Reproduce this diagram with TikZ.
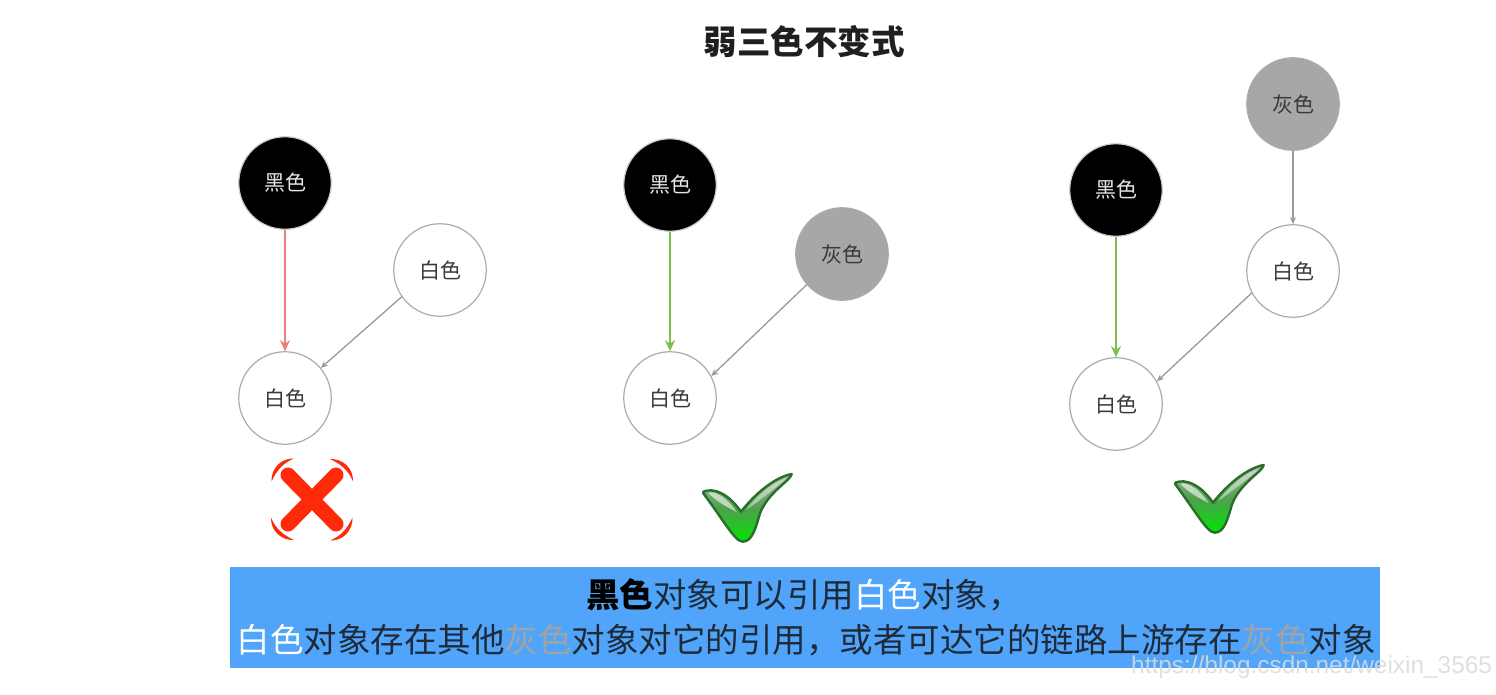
\documentclass[tikz,border=0pt]{standalone}
\usepackage{fontspec}
\setmainfont{Noto Sans CJK SC}
\newfontfamily\wmfont{Liberation Sans}
\usetikzlibrary{arrows.meta}
\definecolor{barblue}{HTML}{50A5FA}
\definecolor{nodegray}{HTML}{A5A8A6}
\definecolor{rimgray}{HTML}{ABABAB}
\definecolor{labeldark}{HTML}{3A3A3A}
\definecolor{badred}{HTML}{F07C7E}
\definecolor{goodgreen}{HTML}{7AC04F}
\definecolor{linegray}{HTML}{9A9A9A}
\definecolor{crossred}{HTML}{FF2A0A}
\definecolor{barink}{HTML}{1E2A38}
\definecolor{grayink}{HTML}{A0A4A6}
\definecolor{checkrim}{HTML}{2A6E2C}
\definecolor{checktop}{HTML}{A8B8A8}
\definecolor{checkmid}{HTML}{4FA04F}
\definecolor{checkbot}{HTML}{00E400}
\newcommand{\barfont}{\fontsize{33.5}{38}\selectfont}
\tikzset{
  obj/.style={circle,minimum size=92.5pt,inner sep=0pt,line width=1.2pt,font=\fontsize{21}{24}\selectfont},
  blackobj/.style={obj,fill=black,draw=rimgray!60,text=white!90!black},
  whiteobj/.style={obj,fill=white,draw=rimgray,text=labeldark},
  grayobj/.style={obj,fill=nodegray,draw=rimgray,text=labeldark},
  badarrow/.style={draw=badred,line width=2.6pt,-{Stealth[length=11pt,width=10pt]}},
  goodarrow/.style={draw=goodgreen,line width=2.6pt,-{Stealth[length=11pt,width=10pt]}},
  thinarrow/.style={draw=linegray,line width=1.3pt,-{Stealth[length=7pt,width=6pt]}},
  bartext/.style={inner sep=0pt,text=barink,font=\barfont},
  crescent/.style={fill=crossred,draw=none},
  pics/okmark/.style={code={
    \begin{scope}[scale=1/3]
    \path[draw=checkrim,line width=2.4pt,line join=round,top color=checktop,bottom color=checkbot,middle color=checkmid]
      (70,125) .. controls (100,112) and (145,130) .. (183,185)
      .. controls (230,125) and (290,80) .. (335,72)
      .. controls (332,92) and (265,125) .. (240,190)
      .. controls (228,230) and (218,275) .. (188,275)
      .. controls (165,275) and (130,210) .. (70,130) -- cycle;
    \fill[white,opacity=.6] (84,128) .. controls (110,122) and (145,148) .. (170,186)
      .. controls (140,170) and (110,155) .. (84,128) -- cycle;
    \fill[white,opacity=.45] (322,84) .. controls (285,92) and (230,135) .. (198,180)
      .. controls (235,155) and (285,115) .. (322,84) -- cycle;
    \end{scope}
  }}
}
\begin{document}
\begin{tikzpicture}[x=1pt,y=-1pt]
\useasboundingbox (0,0) rectangle (1496,694);
\fill[white] (0,0) rectangle (1496,694);

\node[inner sep=0pt,font=\bfseries\fontsize{33.5}{38}\selectfont,text=black!88] (title) at (804,42) {弱三色不变式};

% left group
\node[blackobj] (b1) at (285,183) {黑色};
\node[whiteobj] (w1a) at (440,270) {白色};
\node[whiteobj] (w1b) at (285,398) {白色};
\draw[badarrow] (b1) -- (w1b);
\draw[thinarrow] (w1a.215) -- (w1b.40);

% middle group
\node[blackobj] (b2) at (670,185) {黑色};
\node[grayobj] (g2) at (842,254) {灰色};
\node[whiteobj] (w2) at (670,398) {白色};
\draw[goodarrow] (b2) -- (w2);
\draw[thinarrow] (g2.221) -- (w2.28);

% right group
\node[grayobj] (g3) at (1293,104) {灰色};
\node[blackobj] (b3) at (1116,190) {黑色};
\node[whiteobj] (w3a) at (1293,271) {白色};
\node[whiteobj] (w3b) at (1116,404) {白色};
\draw[thinarrow] (g3) -- (w3a);
\draw[goodarrow] (b3) -- (w3b);
\draw[thinarrow] (w3a.208) -- (w3b.29);

% cross mark
\draw[crossred,line width=15pt,line cap=round] (288,475) -- (336,524) (336,475) -- (288,524);
\foreach \r in {0,90,180,270}{
  \begin{scope}[shift={(312,499.5)},rotate=\r]
    \fill[crescent] (-40.5,-18) .. controls (-41,-31) and (-31,-41.5) .. (-18,-41)
      .. controls (-28,-37) and (-35,-30) .. (-40.5,-18) -- cycle;
  \end{scope}
}

% check marks
\pic at (680,450) {okmark};
\pic at (1152,441) {okmark};

% bar
\fill[barblue] (230,567) rectangle (1380,668);
\node[bartext] (line1) at (804,595) {\textbf{\textcolor{black}{黑色}}对象可以引用\textcolor{white}{白色}对象，};
\node[bartext] (line2) at (806,640) {\textcolor{white}{白色}对象存在其他\textcolor{grayink}{灰色}对象对它的引用，或者可达它的链路上游存在\textcolor{grayink}{灰色}对象};

% watermark
\node[inner sep=0pt,anchor=west,text=white!72!gray,opacity=.85,font=\wmfont\fontsize{24.4}{30}\selectfont] (wm) at (1131,667) {https://blog.csdn.net/weixin\_3565};
\end{tikzpicture}
\end{document}
